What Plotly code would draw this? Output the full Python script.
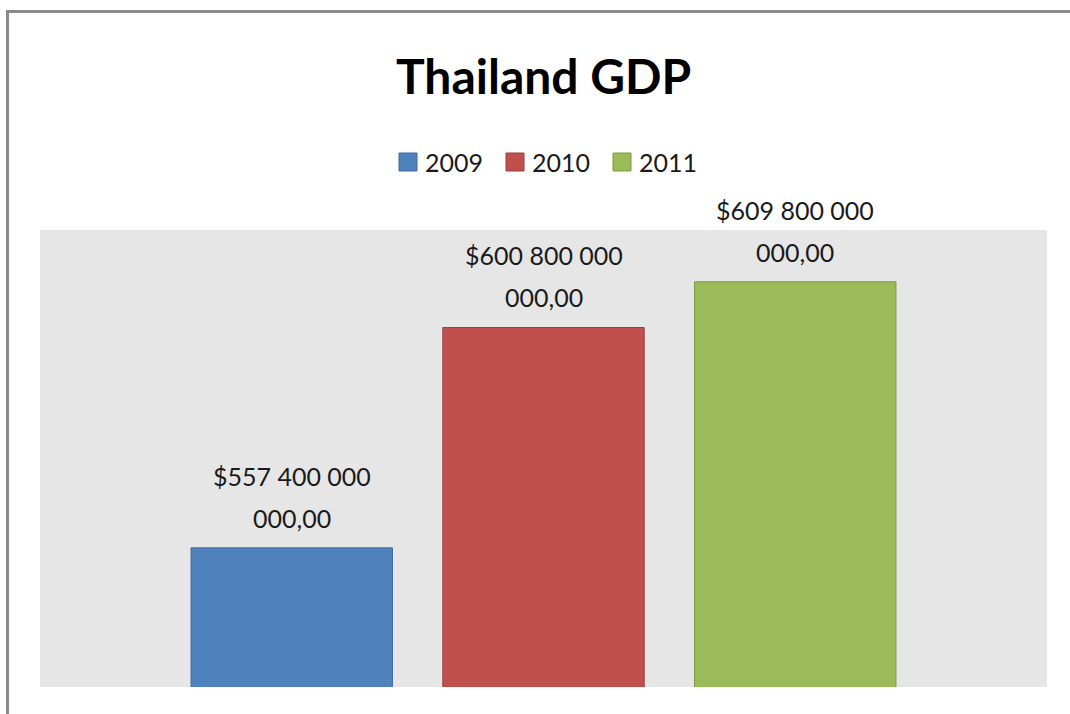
import plotly.graph_objects as go

# ---- data ----
years = ["2009", "2010", "2011"]
gdp_usd = [557_400_000_000, 600_800_000_000, 609_800_000_000]
colors = ["#4f81bd", "#c0504d", "#9bbb59"]
outline = ["#3d6a9e", "#9c3f3c", "#7d9a45"]

W, H = 1070, 714
L, R, T, B = 40, 23, 230, 27
plot_w = W - L - R
plot_h = H - T - B

def px_x(p):
    return (p - L) / plot_w

def px_y(p):
    return (H - B - p) / plot_h

def fmt(v):
    s = f"{v:,.2f}".replace(",", " ").replace(".", ",")
    head, tail = s.rsplit(" ", 1)
    return "$" + head, tail

FONT = "Lato, 'Open Sans', sans-serif"
fig = go.Figure()
annotations = []
for i, (yr, v, c, oc) in enumerate(zip(years, gdp_usd, colors, outline)):
    fig.add_trace(go.Bar(
        x=[yr], y=[v], name=yr, width=0.8,
        marker=dict(color=c, line=dict(color=oc, width=1)),
        showlegend=False,
    ))
    l1, l2 = fmt(v)
    annotations.append(dict(x=i, y=v, xref="x", yref="y", text=l1, showarrow=False,
                            yanchor="middle", yshift=72,
                            font=dict(family=FONT, size=25, color="#1a1a1a")))
    annotations.append(dict(x=i, y=v, xref="x", yref="y", text=l2, showarrow=False,
                            yanchor="middle", yshift=30,
                            font=dict(family=FONT, size=25, color="#1a1a1a")))

# custom legend (squares + labels)
shapes = []
leg_y = 162
start_x = 399
step = 107
sq = 18
for i, (yr, c, oc) in enumerate(zip(years, colors, outline)):
    x0 = start_x + i * step
    shapes.append(dict(type="rect", xref="paper", yref="paper",
                       x0=px_x(x0), x1=px_x(x0 + sq),
                       y0=px_y(leg_y + sq / 2), y1=px_y(leg_y - sq / 2),
                       fillcolor=c, line=dict(color=oc, width=1)))
    annotations.append(dict(x=px_x(x0 + sq + 6), y=px_y(leg_y), xref="paper", yref="paper",
                            text=yr, showarrow=False, xanchor="left", yanchor="middle",
                            font=dict(family=FONT, size=25, color="#1a1a1a")))

# outer chart frame
shapes.append(dict(type="rect", xref="paper", yref="paper",
                   x0=px_x(7.5), x1=px_x(1085), y0=px_y(730), y1=px_y(11.5),
                   line=dict(color="#8a8a8a", width=3), fillcolor="rgba(0,0,0,0)",
                   layer="above"))

annotations.append(dict(x=px_x(543), y=px_y(75), xref="paper", yref="paper",
                        text="<b>Thailand GDP</b>", showarrow=False,
                        xanchor="center", yanchor="middle",
                        font=dict(family=FONT, size=48, color="#000000")))

fig.update_layout(
    width=W, height=H,
    margin=dict(l=L, r=R, t=T, b=B),
    paper_bgcolor="white",
    plot_bgcolor="#e6e6e6",
    barmode="overlay",
    showlegend=False,
    xaxis=dict(type="category", categoryorder="array", categoryarray=years,
               range=[-1, 3], showticklabels=False, showgrid=False,
               zeroline=False, showline=False, ticks=""),
    yaxis=dict(range=[530e9, 620e9], showticklabels=False, showgrid=False,
               zeroline=False, showline=False, ticks=""),
    shapes=shapes,
    annotations=annotations,
)

fig.write_html("out.html")
